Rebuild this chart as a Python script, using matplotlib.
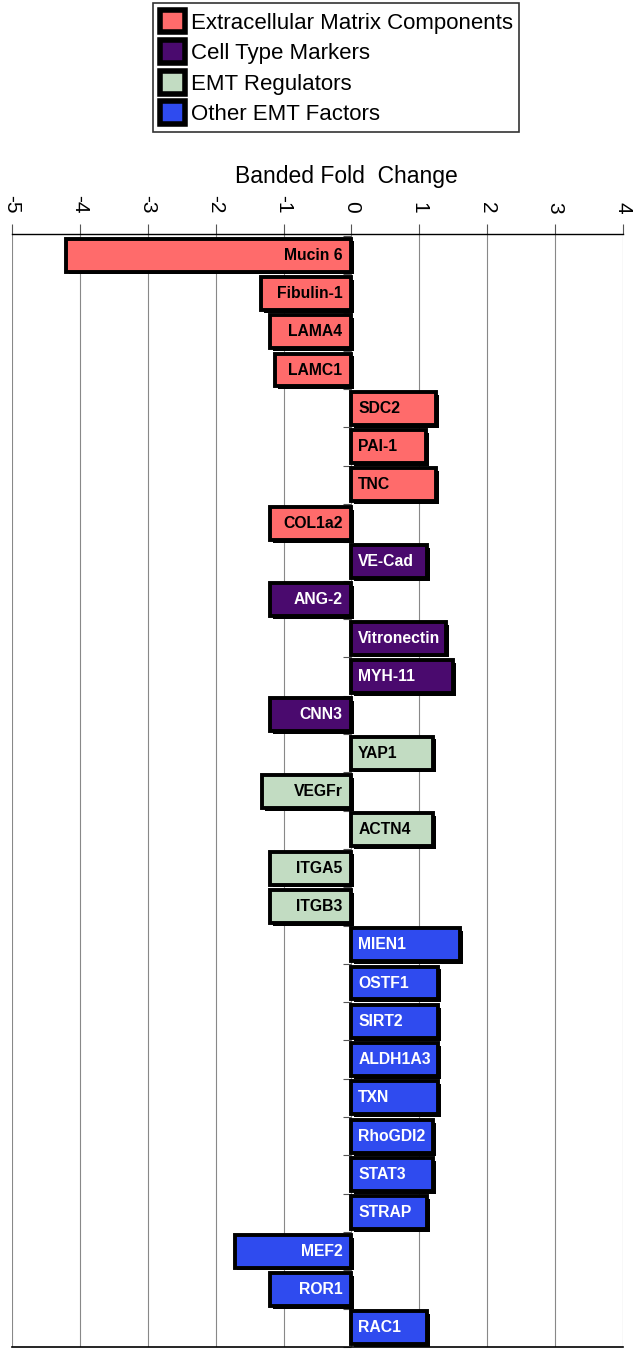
import matplotlib
matplotlib.use("Agg")
import matplotlib.pyplot as plt
import matplotlib.patheffects as pe
from matplotlib.patches import Patch
import numpy as np

plt.rcParams['font.family'] = ['Liberation Sans', 'DejaVu Sans']

genes = ["Mucin 6", "Fibulin-1", "LAMA4", "LAMC1", "SDC2", "PAI-1", "TNC", "COL1a2",
         "VE-Cad", "ANG-2", "Vitronectin", "MYH-11", "CNN3",
         "YAP1", "VEGFr", "ACTN4", "ITGA5", "ITGB3",
         "MIEN1", "OSTF1", "SIRT2", "ALDH1A3", "TXN", "RhoGDI2", "STAT3", "STRAP", "MEF2", "ROR1", "RAC1"]
fold_change = [-4.2, -1.33, -1.2, -1.12, 1.25, 1.1, 1.25, -1.2,
               1.12, -1.2, 1.4, 1.5, -1.2,
               1.2, -1.32, 1.2, -1.2, -1.2,
               1.6, 1.28, 1.28, 1.28, 1.28, 1.2, 1.2, 1.12, -1.72, -1.2, 1.12]
groups = ["ECM"] * 8 + ["Cell"] * 5 + ["Reg"] * 5 + ["Other"] * 11
group_labels = {"ECM": "Extracellular Matrix Components", "Cell": "Cell Type Markers",
                "Reg": "EMT Regulators", "Other": "Other EMT Factors"}
group_colors = {"ECM": "#FF6B6B", "Cell": "#4A0A6E", "Reg": "#C2DCC2", "Other": "#2F4BEF"}
text_colors = {"ECM": "black", "Cell": "white", "Reg": "black", "Other": "white"}
xticks = [-5, -4, -3, -2, -1, 0, 1, 2, 3, 4]

fig = plt.figure(figsize=(6.38, 13.52), dpi=100)
ax = fig.add_axes([12/638, 1 - 1347/1352, (623 - 12)/638, (1347 - 234)/1352])

y = np.arange(len(genes))
shadow = [pe.SimplePatchShadow(offset=(2, -2), shadow_rgbFace='black', alpha=1.0), pe.Normal()]
for yi, v, g, name in zip(y, fold_change, groups, genes):
    b = ax.barh(yi, v, height=0.86, color=group_colors[g], edgecolor='black', linewidth=2.8, zorder=3)
    for p in b.patches:
        p.set_path_effects(shadow)
    if v < 0:
        ax.text(-0.13, yi, name, ha='right', va='center', fontsize=11.3, fontweight='bold',
                color=text_colors[g], zorder=4)
    else:
        ax.text(0.1, yi, name, ha='left', va='center', fontsize=11.3, fontweight='bold',
                color=text_colors[g], zorder=4)

ax.set_xlim(-5, 4)
ax.set_ylim(len(genes) - 0.53, -0.55)
ax.set_xticks(xticks)
ax.xaxis.tick_top()
ax.set_xticklabels([str(t) for t in xticks], rotation=-90, fontsize=15)
ax.tick_params(axis='x', direction='out', length=7, width=0.8, color='#555555', pad=8)
ax.xaxis.grid(True, color='#888888', linewidth=0.8, zorder=0)
ax.set_axisbelow(True)

# row boundary ticks at zero
ax.spines['left'].set_position(('data', 0))
ax.spines['left'].set_visible(False)
ax.set_yticks(np.arange(len(genes) + 1) - 0.5)
ax.set_yticklabels([])
ax.tick_params(axis='y', direction='out', length=6, width=0.8, color='#555555')

ax.spines['right'].set_visible(False)
ax.spines['top'].set_linewidth(1.0)
ax.spines['bottom'].set_linewidth(1.2)

fig.text(346/638, 1 - 176/1352, "Banded Fold  Change", ha='center', va='center', fontsize=16.5)

handles = [Patch(facecolor=group_colors[k], edgecolor='black', linewidth=4, label=group_labels[k])
           for k in ["ECM", "Cell", "Reg", "Other"]]
leg = fig.legend(handles=handles, loc='upper left', bbox_to_anchor=(153/638, 1 - 3/1352),
                 fontsize=16, frameon=True, fancybox=False, edgecolor='black',
                 handlelength=1.15, handleheight=1.2, handletextpad=0.25, labelspacing=0.3,
                 borderpad=0.3, borderaxespad=0)
leg.get_frame().set_linewidth(1.2)

fig.savefig("out.png", dpi=100)
